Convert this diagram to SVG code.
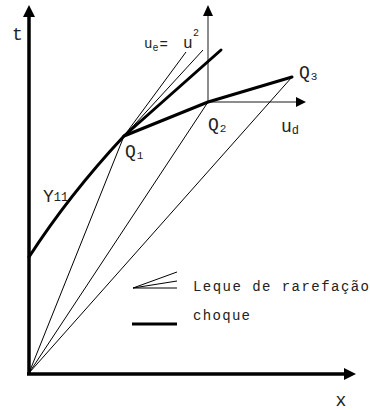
<svg xmlns="http://www.w3.org/2000/svg" width="370" height="410" viewBox="0 0 370 410">
<style>
.lbl{font-family:"Liberation Mono","Courier New",monospace;fill:#222}
.thin{stroke:#000;stroke-width:1;fill:none}
.thick{stroke:#000;stroke-width:3;fill:none;stroke-linecap:round;stroke-linejoin:round}
.ax{stroke:#000;stroke-width:3.5;fill:none}
.sax{stroke:#666;stroke-width:1.5;fill:none}
</style>
<rect width="370" height="410" fill="#fff"/>
<g id="axes">
<line class="ax" x1="29" y1="375" x2="29" y2="16"/>
<polygon points="29,5 23,17 35,17" fill="#000"/>
<line class="ax" x1="27" y1="374" x2="345" y2="374"/>
<polygon points="356,374 344,368 344,380" fill="#000"/>
<text class="lbl" x="17.5" y="40" font-size="18" text-anchor="middle">t</text>
<text class="lbl" x="341" y="406" font-size="18" text-anchor="middle">x</text>
</g>
<g id="small-axes">
<line class="sax" x1="208" y1="102" x2="208" y2="15"/>
<polygon points="208,5 203,16 213,16" fill="#000"/>
<line class="sax" x1="208" y1="102" x2="297" y2="102"/>
<polygon points="306,102 296,97 296,107" fill="#000"/>
<text class="lbl" x="281" y="132" font-size="18">u<tspan font-size="12" dy="2">d</tspan></text>
</g>
<g id="connectors">
<line class="thin" x1="29" y1="373" x2="124" y2="136"/>
<line class="thin" x1="29" y1="373" x2="208" y2="102"/>
<line class="thin" x1="29" y1="373" x2="292" y2="77"/>
<line class="thin" x1="124" y1="136" x2="186" y2="52"/>
<line class="thin" x1="124" y1="136" x2="203" y2="50"/>
<path class="thick" d="M29,257 Q69,195 124,136 L221,50"/>
<polyline class="thick" points="124,136 208,102 292,77"/>
</g>
<g id="Q1">
<text class="lbl" x="125" y="157" font-size="18">Q<tspan font-size="11" dx="1" dy="2">1</tspan></text>
</g>
<g id="Q2">
<text class="lbl" x="208" y="130" font-size="18">Q<tspan font-size="11" dx="1" dy="2">2</tspan></text>
</g>
<g id="Q3">
<text class="lbl" x="299" y="78" font-size="18">Q<tspan font-size="11" dx="1" dy="2">3</tspan></text>
</g>
<g id="Y11">
<text class="lbl" x="43" y="202" font-size="18">Y<tspan font-size="12" dy="-1">11</tspan></text>
</g>
<g id="ue-label">
<text class="lbl" x="144" y="48" font-size="14">u<tspan font-size="10" dy="3">e</tspan><tspan dy="-2" dx="1">=</tspan></text>
<text class="lbl" x="183" y="48" font-size="16">u</text>
<text class="lbl" x="193" y="36" font-size="10">2</text>
</g>
<g id="legend">
<line class="thin" x1="133" y1="288" x2="177" y2="272"/>
<line class="thin" x1="133" y1="288" x2="177" y2="281"/>
<line class="thin" x1="133" y1="288" x2="177" y2="288"/>
<line stroke="#000" stroke-width="3" x1="132" y1="324" x2="177" y2="324"/>
<text class="lbl" x="193" y="291" font-size="14" textLength="176" lengthAdjust="spacing">Leque de rarefação</text>
<text class="lbl" x="193" y="320" font-size="14" textLength="57" lengthAdjust="spacing">choque</text>
</g>
</svg>
